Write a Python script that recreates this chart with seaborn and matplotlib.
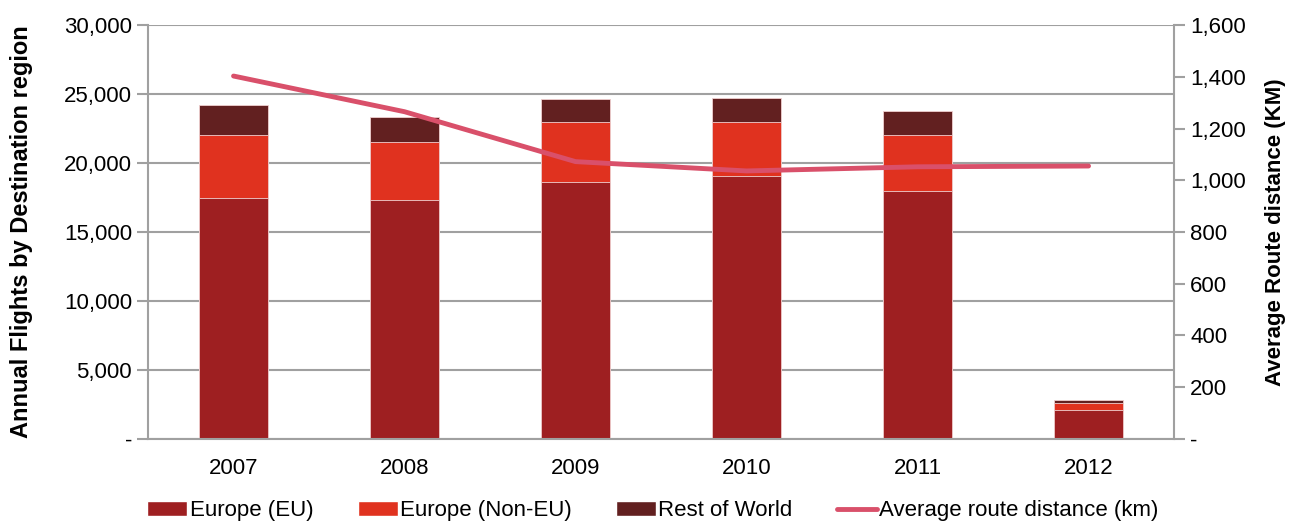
import numpy as np
import pandas as pd
import matplotlib.pyplot as plt
import seaborn as sns
from matplotlib.patches import Patch
from matplotlib.lines import Line2D
from matplotlib.ticker import FuncFormatter

sns.set_theme(style="white")
plt.rcParams['font.family'] = ['Liberation Sans', 'DejaVu Sans']
plt.rcParams['text.color'] = 'black'
plt.rcParams['axes.labelcolor'] = 'black'
plt.rcParams['xtick.color'] = 'black'
plt.rcParams['ytick.color'] = 'black'

years = ["2007", "2008", "2009", "2010", "2011", "2012"]
europe_eu = [17450, 17300, 18650, 19080, 18000, 2080]
europe_non_eu = [4550, 4220, 4300, 3870, 4000, 550]
rest_of_world = [2200, 1850, 1700, 1760, 1770, 200]
avg_distance = [1403, 1265, 1072, 1036, 1052, 1055]

C_EU = "#9E1F21"
C_NONEU = "#E0321F"
C_ROW = "#622020"
C_LINE = "#D9506A"
GREY = "#A0A0A0"
FS = 16

df = pd.DataFrame({
    "Year": years,
    "EU": europe_eu,
    "NonEU": europe_non_eu,
    "RoW": rest_of_world,
})
df["cum2"] = df["EU"] + df["NonEU"]
df["cum3"] = df["cum2"] + df["RoW"]

fig, ax = plt.subplots(figsize=(12.93, 5.23), dpi=100)
fig.subplots_adjust(left=0.1145, right=0.908, top=0.952, bottom=0.161)

ax.set_axisbelow(True)
ax.yaxis.grid(True, color=GREY, linewidth=1.5)
kw = dict(x="Year", ax=ax, width=0.4, edgecolor="#F0D0D0", linewidth=0.6, saturation=1)
sns.barplot(data=df, y="cum3", color=C_ROW, **kw)
sns.barplot(data=df, y="cum2", color=C_NONEU, **kw)
sns.barplot(data=df, y="EU", color=C_EU, **kw)

ax.set_ylim(0, 30000)
ax.set_xlim(-0.5, 5.5)
ax.set_yticks(np.arange(0, 30001, 5000))
ax.yaxis.set_major_formatter(FuncFormatter(lambda v, _: "-" if v == 0 else f"{int(v):,}"))
ax.set_xlabel("")
ax.set_ylabel("Annual Flights by Destination region", fontsize=17, fontweight="bold", labelpad=22)
ax.set_xticks(range(len(years)))
ax.set_xticklabels(years)
ax.set_xticks(np.arange(-0.5, len(years), 1), minor=True)
ax.tick_params(axis="x", which="major", length=0, labelsize=FS, pad=14)
ax.tick_params(axis="x", which="minor", length=7, color=GREY, width=1.5)
ax.tick_params(axis="y", length=8, color=GREY, width=1.5, labelsize=FS, left=True, direction="out")
for s in ["left", "bottom", "right"]:
    ax.spines[s].set_color(GREY)
    ax.spines[s].set_linewidth(1.5)
ax.spines["top"].set_visible(False)

ax2 = ax.twinx()
sns.lineplot(x=np.arange(len(years)), y=avg_distance, ax=ax2, color=C_LINE, linewidth=3.5)
ax2.set_ylim(0, 1600)
ax2.set_xlim(-0.5, 5.5)
ax2.set_yticks(np.arange(0, 1601, 200))
ax2.yaxis.set_major_formatter(FuncFormatter(lambda v, _: "-" if v == 0 else f"{int(v):,}"))
ax2.set_ylabel("Average Route distance (KM)", fontsize=16, fontweight="bold", labelpad=14)
ax2.tick_params(axis="y", length=8, color=GREY, width=1.5, labelsize=FS, right=True, direction="out")
for s in ["left", "bottom", "right", "top"]:
    ax2.spines[s].set_visible(False)
ax2.grid(False)

handles = [
    Patch(facecolor=C_EU, label="Europe (EU)"),
    Patch(facecolor=C_NONEU, label="Europe (Non-EU)"),
    Patch(facecolor=C_ROW, label="Rest of World"),
    Line2D([0], [0], color=C_LINE, linewidth=3.5, label="Average route distance (km)"),
]
fig.legend(handles=handles, loc="lower center", ncol=4, frameon=False, fontsize=FS,
           bbox_to_anchor=(0.505, -0.035), handlelength=1.8, handletextpad=0.1, columnspacing=2.0)

fig.savefig("out.png", dpi=100)
